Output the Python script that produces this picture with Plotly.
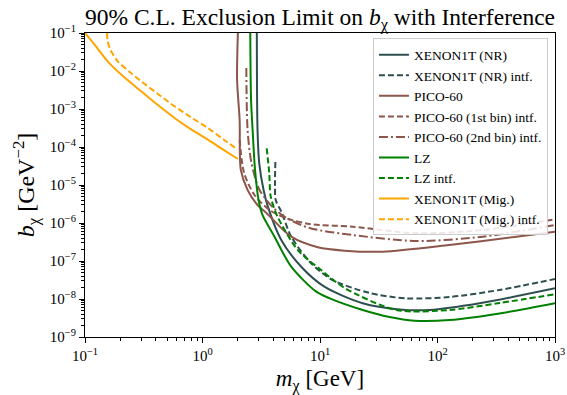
import plotly.graph_objects as go

# ---------------- data ----------------
x1t_nr_m = [2.90, 2.94, 3.04, 3.31, 3.60, 4.68, 6.92, 10.9, 23.1, 47.5, 85.5, 228, 1000]
x1t_nr_b = [1e-1, 2.80e-4, 3.73e-5, 7.38e-6, 2.69e-6, 3.57e-7, 7.08e-8, 2.11e-8, 7.71e-9, 5.3e-9, 5.14e-9, 7.71e-9, 1.91e-8]

x1t_nr_i_m = [4.17, 4.14, 4.20, 4.70, 5.69, 8.41, 12.8, 26.4, 54.2, 127, 337, 1000]
x1t_nr_i_b = [4.03e-5, 1.0e-5, 4.03e-6, 1.95e-6, 4.36e-7, 8.70e-8, 3.16e-8, 1.44e-8, 1.04e-8, 1.13e-8, 1.73e-8, 3.36e-8]

pico_m = [2.00, 1.97, 2.07, 2.12, 2.42, 2.94, 3.57, 5.69, 9.58, 16.2, 34.2, 126, 468, 1000]
pico_b = [1e-1, 5.8e-3, 5.14e-4, 2.48e-5, 7.4e-6, 2.98e-6, 1.73e-6, 4.36e-7, 2.30e-7, 1.87e-7, 1.76e-7, 2.64e-7, 4.36e-7, 5.90e-7]

pico1_m = [2.07, 2.26, 2.77, 3.72, 5.19, 8.15, 19.0, 65.9, 243, 1000]
pico1_b = [1.53e-4, 2.07e-5, 5.46e-6, 2.20e-6, 1.33e-6, 9.42e-7, 8.0e-7, 5.36e-7, 6.55e-7, 1.25e-6]

pico2_m = [2.36, 2.42, 2.61, 3.06, 4.02, 5.19, 8.15, 19.0, 65.9, 243, 1000]
pico2_b = [1.20e-2, 2.80e-4, 3.79e-5, 7.38e-6, 2.48e-6, 1.36e-6, 7.38e-7, 4.83e-7, 3.36e-7, 4.36e-7, 8.86e-7]

lz_m = [2.55, 2.59, 2.67, 2.80, 3.00, 3.24, 4.10, 5.69, 9.29, 12.1, 23.1, 39.0, 63.7, 127, 337, 1000]
lz_b = [1e-1, 1.73e-3, 2.80e-4, 2.48e-5, 4.03e-6, 1.63e-6, 4.36e-7, 7.08e-8, 1.56e-8, 1.04e-8, 5.14e-9, 3.36e-9, 2.69e-9, 2.8e-9, 4.15e-9, 7.7e-9]

lz_i_m = [3.52, 3.70, 3.81, 4.35, 6.47, 10.2, 16.2, 44.5, 127, 337, 1000]
lz_i_b = [9.24e-5, 2.03e-5, 4.92e-6, 1.47e-6, 1.95e-7, 5.80e-8, 1.95e-8, 5.14e-9, 5.14e-9, 7.85e-9, 1.33e-8]

mig_m = [0.100, 0.125, 0.156, 0.215, 0.301, 0.420, 0.578, 0.800, 1.11, 1.50, 2.00]
mig_b = [1.0e-1, 4.3e-2, 1.80e-2, 6.9e-3, 2.92e-3, 1.25e-3, 5.80e-4, 2.9e-4, 1.56e-4, 8.5e-5, 4.83e-5]

mig_i_m = [0.154, 0.156, 0.165, 0.190, 0.240, 0.301, 0.420, 0.578, 0.800, 1.11, 1.50, 2.00]
mig_i_b = [1.0e-1, 6.05e-2, 3.57e-2, 1.80e-2, 9.4e-3, 5.36e-3, 2.45e-3, 1.18e-3, 6.0e-4, 3.16e-4, 1.6e-4, 8.5e-5]

x_tick_vals = [1e-1, 1e0, 1e1, 1e2, 1e3]
x_tick_text = ["10<sup>−1</sup>", "10<sup>0</sup>", "10<sup>1</sup>", "10<sup>2</sup>", "10<sup>3</sup>"]
y_tick_vals = [1e-9, 1e-8, 1e-7, 1e-6, 1e-5, 1e-4, 1e-3, 1e-2, 1e-1]
y_tick_text = ["10<sup>−9</sup>", "10<sup>−8</sup>", "10<sup>−7</sup>", "10<sup>−6</sup>", "10<sup>−5</sup>",
               "10<sup>−4</sup>", "10<sup>−3</sup>", "10<sup>−2</sup>", "10<sup>−1</sup>"]

series = [
    ("XENON1T (NR)", x1t_nr_m, x1t_nr_b, "#2F4F4F", "solid"),
    ("XENON1T (NR) intf.", x1t_nr_i_m, x1t_nr_i_b, "#2F4F4F", "6px,3px"),
    ("PICO-60", pico_m, pico_b, "#8c564b", "solid"),
    ("PICO-60 (1st bin) intf.", pico1_m, pico1_b, "#8c564b", "6px,3px"),
    ("PICO-60 (2nd bin) intf.", pico2_m, pico2_b, "#8c564b", "9px,3px,2px,3px"),
    ("LZ", lz_m, lz_b, "#008000", "solid"),
    ("LZ intf.", lz_i_m, lz_i_b, "#008000", "6px,3px"),
    ("XENON1T (Mig.)", mig_m, mig_b, "#FFA500", "solid"),
    ("XENON1T (Mig.) intf.", mig_i_m, mig_i_b, "#FFA500", "6px,3px"),
]

FONT = "Liberation Serif"


def minor_vals(lo, hi):
    out = []
    for e in range(lo, hi):
        for k in range(2, 10):
            out.append(k * 10.0 ** e)
    return out


fig = go.Figure()
for name, m, b, col, dash in series:
    fig.add_trace(go.Scatter(
        x=m, y=b, name=name, mode="lines",
        line=dict(color=col, width=2, dash=dash, shape="spline", smoothing=0.8),
    ))

axis_common = dict(
    type="log", showgrid=False, zeroline=False, automargin=False,
    showline=True, linecolor="black", linewidth=1.2, mirror=True,
    ticks="outside", ticklen=5, tickcolor="black", tickwidth=1,
    tickmode="array",
    tickfont=dict(family=FONT, size=15, color="black"),
)

fig.update_xaxes(
    **axis_common, range=[-1, 3],
    tickvals=x_tick_vals, ticktext=x_tick_text,
    minor=dict(ticks="outside", ticklen=3, tickcolor="black", tickmode="array",
               tickvals=minor_vals(-1, 3), showgrid=False),
    title=dict(text="<i>m</i><sub>χ</sub> [GeV]", font=dict(family=FONT, size=23, color="black"), standoff=6),
)
fig.update_yaxes(
    **axis_common, range=[-9, -1],
    tickvals=y_tick_vals, ticktext=y_tick_text,
    minor=dict(ticks="outside", ticklen=3, tickcolor="black", tickmode="array",
               tickvals=minor_vals(-9, -1), showgrid=False),
    title=dict(text="<i>b</i><sub>χ</sub> [GeV<sup>−2</sup>]", font=dict(family=FONT, size=24, color="black"), standoff=8),
)

fig.update_layout(
    width=567, height=395,
    margin=dict(l=85, r=12, t=33, b=58),
    paper_bgcolor="white", plot_bgcolor="white",
    font=dict(family=FONT, color="black"),
    title=dict(text="90% C.L. Exclusion Limit on <i>b</i><sub>χ</sub> with Interference",
               x=0.5, xref="paper", xanchor="center", y=0.958, yanchor="middle", yref="container",
               font=dict(family=FONT, size=23.5, color="black")),
    legend=dict(
        x=0.985, xanchor="right", y=0.982, yanchor="top",
        bgcolor="rgba(255,255,255,0.85)", bordercolor="#cccccc", borderwidth=1,
        font=dict(family=FONT, size=13.5, color="black"),
        tracegroupgap=0, itemwidth=30,
    ),
)

fig.write_html("out.html")
